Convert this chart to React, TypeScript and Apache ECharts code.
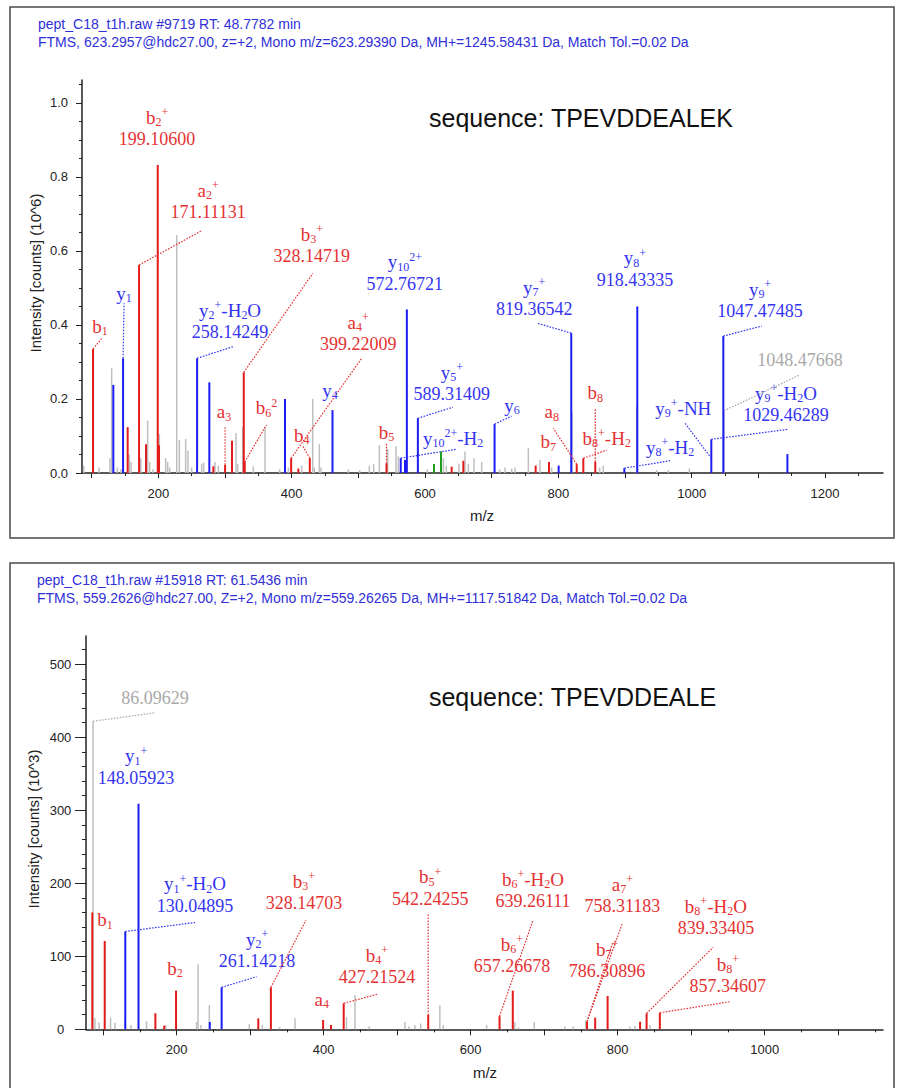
import React, { useEffect, useRef } from "react";
import * as echarts from "echarts";

const SERIF = "'Liberation Serif', 'DejaVu Serif', serif";
const SANS = "'Liberation Sans', Arial, sans-serif";

// ---------------- Spectrum 1: TPEVDDEALEK (intensity in 10^6 counts) ----------------
const s1RedMz = [102.06, 154.0, 171.11, 181.5, 199.11, 201.0, 282.5, 300.13, 310.5, 328.15, 329.6, 399.22, 410.0, 427.2, 542.24, 640.0, 657.5, 766.0, 786.0, 827.6, 837.5, 855.4];
const s1RedInt = [0.335, 0.124, 0.562, 0.078, 0.832, 0.075, 0.018, 0.022, 0.087, 0.272, 0.03, 0.04, 0.012, 0.04, 0.026, 0.017, 0.033, 0.02, 0.03, 0.024, 0.04, 0.03];
const s1BlueMz = [132.5, 147.11, 258.14, 276.5, 390.0, 461.25, 563.6, 570.0, 572.77, 589.31, 704.35, 800.5, 819.37, 899.0, 918.43, 1029.46, 1047.47, 1143.6];
const s1BlueInt = [0.238, 0.31, 0.31, 0.245, 0.2, 0.17, 0.04, 0.035, 0.442, 0.148, 0.132, 0.02, 0.378, 0.013, 0.45, 0.091, 0.37, 0.051];
const s1GreenMz = [613.5, 624.0];
const s1GreenInt = [0.024, 0.058];
const s1GrayMz = [88, 111, 127.5, 130, 138.5, 144, 156.5, 159, 173.6, 184, 187, 192, 201.5, 211, 214, 217, 227.6, 231.5, 241, 244.5, 250, 265, 268, 285, 290, 316.5, 319, 326.6, 342.5, 360, 382, 395, 415, 431.6, 434, 441.5, 444, 485, 502, 516.5, 523, 531.5, 544, 556.5, 560, 603.5, 627.5, 632, 651, 660, 665, 673.5, 685, 712, 720, 730, 735, 755, 772.5, 790, 820.5, 862, 867.5, 917.5, 947.5, 965, 996.5, 1048.48];
const s1GrayInt = [0.02, 0.015, 0.04, 0.283, 0.015, 0.01, 0.05, 0.03, 0.04, 0.141, 0.03, 0.01, 0.105, 0.04, 0.03, 0.015, 0.643, 0.09, 0.092, 0.06, 0.015, 0.025, 0.028, 0.03, 0.02, 0.108, 0.025, 0.125, 0.018, 0.125, 0.01, 0.015, 0.02, 0.2, 0.015, 0.078, 0.015, 0.01, 0.008, 0.02, 0.025, 0.075, 0.065, 0.072, 0.045, 0.01, 0.04, 0.02, 0.025, 0.058, 0.025, 0.04, 0.03, 0.01, 0.015, 0.012, 0.015, 0.067, 0.035, 0.015, 0.163, 0.015, 0.02, 0.18, 0.008, 0.008, 0.012, 0.168];

// ---------------- Spectrum 2: TPEVDDEALE (intensity in 10^3 counts) ----------------
const s2RedMz = [85.2, 102.06, 171, 183, 199.1, 311, 328.15, 399.2, 410, 427.22, 542.24, 639.26, 657.27, 758.31, 769.4, 786.31, 830.5, 839.33, 857.35];
const s2RedInt = [160, 121, 22, 5, 53, 15, 57.5, 12.7, 6, 35.6, 19.6, 18, 53, 10.5, 16, 45.6, 10.4, 21.9, 22.7];
const s2BlueMz = [130.05, 148.06, 245, 261.14];
const s2BlueInt = [134, 309, 10, 57.5];
const s2GrayMz = [86.1, 88.8, 94.3, 110, 116, 129.7, 137.8, 159, 185, 227, 229, 233, 244.4, 298.8, 316.5, 327.9, 340, 361, 431, 442.6, 462, 510.6, 516, 524, 532, 558, 562.7, 621.7, 660, 665, 686.5, 728, 739.6, 756.5, 816.7, 823.5, 844];
const s2GrayInt = [422, 15, 9.6, 16, 9, 10, 6, 11, 6, 10, 89, 6, 33, 7, 6, 42, 3, 15, 17, 47, 4, 10, 4, 6, 8, 33, 6, 6, 10, 3, 10, 4, 4, 12, 4, 5, 6];

// ---------------- Axis ticks / labels ----------------
const s1XLabels = [200, 400, 600, 800, 1000, 1200];
const s1XMajorTicks = [100, 200, 300, 400, 500, 600, 700, 800, 900, 1000, 1100, 1200];
const s1XMinorTicks = [150, 250, 350, 450, 550, 650, 750, 850, 950, 1050, 1150, 1250];
const s1YLabels = [0, 0.2, 0.4, 0.6, 0.8, 1.0];
const s1YMinorTicks = [0, 0.05, 0.1, 0.15, 0.2, 0.25, 0.3, 0.35, 0.4, 0.45, 0.5, 0.55, 0.6, 0.65, 0.7, 0.75, 0.8, 0.85, 0.9, 0.95, 1.0, 1.05];
const s2XLabels = [200, 400, 600, 800, 1000];
const s2XMajorTicks = [100, 200, 300, 400, 500, 600, 700, 800, 900, 1000, 1100];
const s2XMinorTicks = [150, 250, 350, 450, 550, 650, 750, 850, 950, 1050, 1150];
const s2YLabels = [0, 100, 200, 300, 400, 500];
const s2YMinorTicks = [0, 20, 40, 60, 80, 100, 120, 140, 160, 180, 200, 220, 240, 260, 280, 300, 320, 340, 360, 380, 400, 420, 440, 460, 480, 500, 520];

// ---------------- Annotations (layout offsets in px from the anchored peak top) ----------------
type Ann = { c: "r" | "b" | "g"; mz: number; at?: number; t: string; n?: string; lx?: number; ly?: number; ex?: number; ey?: number };

const s1Ann: Ann[] = [
  { c: "r", mz: 102.06, t: "b_{1}", lx: 7, ly: -23, ex: 9, ey: -11 },
  { c: "b", mz: 147.11, t: "y_{1}", lx: 1, ly: -65, ex: 1, ey: -55 },
  { c: "r", mz: 171.11, t: "a_{2}^{+}", n: "171.11131", lx: 69, ly: -64, ex: 62.7, ey: -34.4 },
  { c: "r", mz: 199.11, t: "b_{2}^{+}", n: "199.10600", lx: -0.7, ly: -37 },
  { c: "r", mz: 328.15, t: "b_{3}^{+}", n: "328.14719", lx: 68, ly: -127, ex: 69, ey: -99 },
  { c: "r", mz: 329.6, t: "b_{6}^{2}", lx: 21.7, ly: -54, ex: 21.7, ey: -37 },
  { c: "r", mz: 300.13, t: "a_{3}", lx: -1, ly: -53, ex: 0, ey: -38 },
  { c: "b", mz: 258.14, t: "y_{2}^{+}-H_{2}O", n: "258.14249", lx: 33, ly: -37, ex: 36, ey: -11.6 },
  { c: "r", mz: 399.22, t: "a_{4}^{+}", n: "399.22009", lx: 67, ly: -125, ex: 70.6, ey: -100 },
  { c: "r", mz: 427.2, t: "b_{4}", lx: -8, ly: -23, ex: -7, ey: -12 },
  { c: "b", mz: 461.25, t: "y_{4}", lx: -2.5, ly: -20 },
  { c: "r", mz: 542.24, t: "b_{5}", lx: 0, ly: -31, ex: 0, ey: -20 },
  { c: "b", mz: 572.77, t: "y_{10}^{2+}", n: "572.76721", lx: -2, ly: -36.5 },
  { c: "b", mz: 563.6, t: "y_{10}^{2+}-H_{2}", lx: 52.3, ly: -20, ex: 56, ey: -9 },
  { c: "b", mz: 589.31, t: "y_{5}^{+}", n: "589.31409", lx: 34, ly: -35, ex: 35, ey: -11 },
  { c: "b", mz: 704.35, t: "y_{6}", lx: 17.5, ly: -19, ex: 17, ey: -8 },
  { c: "b", mz: 819.37, t: "y_{7}^{+}", n: "819.36542", lx: -37, ly: -35, ex: -34.5, ey: -10 },
  { c: "r", mz: 827.6, t: "a_{8}", lx: -25, ly: -52.4, ex: -23.4, ey: -35.8 },
  { c: "r", mz: 786.0, t: "b_{7}", lx: -0.7, ly: -20 },
  { c: "r", mz: 855.4, t: "b_{8}", lx: 0, ly: -69, ex: 0, ey: -54 },
  { c: "r", mz: 837.5, t: "b_{8}^{+}-H_{2}", lx: 23.4, ly: -20, ex: 23.4, ey: -8 },
  { c: "b", mz: 918.43, t: "y_{8}^{+}", n: "918.43335", lx: -2.3, ly: -37.5 },
  { c: "b", mz: 899.0, t: "y_{8}^{+}-H_{2}", lx: 45.7, ly: -21, ex: 45.7, ey: -7.5 },
  { c: "b", mz: 1029.46, at: 0.04, t: "y_{9}^{+}-NH", lx: -28, ly: -50, ex: -26.3, ey: -35 },
  { c: "b", mz: 1029.46, t: "y_{9}^{+}-H_{2}O", n: "1029.46289", lx: 74.7, ly: -35, ex: 77, ey: -10 },
  { c: "b", mz: 1047.47, t: "y_{9}^{+}", n: "1047.47485", lx: 36.7, ly: -36, ex: 38.4, ey: -10 },
  { c: "g", mz: 1048.48, t: "", n: "1048.47668", lx: 76, ly: -50.7, ex: 75.3, ey: -35.7 },
];

const s2Ann: Ann[] = [
  { c: "g", mz: 86.1, t: "", n: "86.09629", lx: 62, ly: -23, ex: 62.2, ey: -8.5 },
  { c: "r", mz: 102.06, t: "b_{1}", lx: 0.3, ly: -21 },
  { c: "b", mz: 148.06, t: "y_{1}^{+}", n: "148.05923", lx: -2.5, ly: -37 },
  { c: "b", mz: 130.05, t: "y_{1}^{+}-H_{2}O", n: "130.04895", lx: 69.7, ly: -36.5, ex: 69.7, ey: -9 },
  { c: "r", mz: 199.1, t: "b_{2}", lx: -1, ly: -22.6 },
  { c: "b", mz: 261.14, t: "y_{2}^{+}", n: "261.14218", lx: 35.4, ly: -37.3, ex: 35, ey: -10.6 },
  { c: "r", mz: 328.15, t: "b_{3}^{+}", n: "328.14703", lx: 33, ly: -95, ex: 35, ey: -67 },
  { c: "r", mz: 399.2, t: "a_{4}", lx: -1.4, ly: -21 },
  { c: "r", mz: 427.22, t: "b_{4}^{+}", n: "427.21524", lx: 33.3, ly: -37.3, ex: 34.6, ey: -9.3 },
  { c: "r", mz: 542.24, t: "b_{5}^{+}", n: "542.24255", lx: 2, ly: -127, ex: 0, ey: -101 },
  { c: "r", mz: 639.26, t: "b_{6}^{+}-H_{2}O", n: "639.26111", lx: 33.5, ly: -126, ex: 33.5, ey: -96 },
  { c: "r", mz: 657.27, t: "b_{6}^{+}", n: "657.26678", lx: -0.8, ly: -35.6 },
  { c: "r", mz: 758.31, t: "a_{7}^{+}", n: "758.31183", lx: 35.4, ly: -126.6, ex: 35.4, ey: -98.6 },
  { c: "r", mz: 758.31, t: "", ex: 26, ey: -80 },
  { c: "r", mz: 786.31, t: "b_{7}^{+}", n: "786.30896", lx: -0.5, ly: -36 },
  { c: "r", mz: 839.33, t: "b_{8}^{+}-H_{2}O", n: "839.33405", lx: 69.3, ly: -96.3, ex: 66.6, ey: -66 },
  { c: "r", mz: 857.35, t: "b_{8}^{+}", n: "857.34607", lx: 68, ly: -37.7, ex: 70, ey: -11 },
];

const RED_LINE = "#e31b1b";
const RED_TEXT = "#e43232";
const BLUE_LINE = "#1c1cf5";
const BLUE_TEXT = "#3434f0";
const GRAY_LINE = "#bfbfbf";
const GRAY_TEXT = "#a9a9a9";
const GREEN_LINE = "#1e9e1e";
const HEADER = "#3030d8";

function toRich(markup: string): string {
  let out = "";
  let buf = "";
  let i = 0;
  const flush = () => {
    if (buf) {
      out += `{m|${buf}}`;
      buf = "";
    }
  };
  while (i < markup.length) {
    const ch = markup[i];
    if (ch === "_" || ch === "^") {
      flush();
      let content = "";
      if (markup[i + 1] === "{") {
        const k = markup.indexOf("}", i + 1);
        content = markup.slice(i + 2, k);
        i = k + 1;
      } else {
        content = markup[i + 1];
        i += 2;
      }
      out += `{${ch === "_" ? "s" : "p"}|${content}}`;
    } else {
      buf += ch;
      i++;
    }
  }
  flush();
  return out;
}

function richFor(col: string) {
  return {
    m: { fontFamily: SERIF, fontSize: 19, lineHeight: 22, fill: col },
    s: { fontFamily: SERIF, fontSize: 12, lineHeight: 12, verticalAlign: "bottom", fill: col },
    p: { fontFamily: SERIF, fontSize: 12, lineHeight: 16, verticalAlign: "top", fill: col },
    n: { fontFamily: SERIF, fontSize: 18, lineHeight: 22, fill: col },
  };
}

function lookup(mzs: number[], ints: number[], mz: number) {
  const i = mzs.indexOf(mz);
  return i >= 0 ? ints[i] : 0;
}

function peakSeries(mzs: number[], ints: number[], color: string, width: number, ax: number) {
  return {
    type: "custom",
    xAxisIndex: ax,
    yAxisIndex: ax,
    silent: true,
    data: mzs.map((m, i) => [m, ints[i]]),
    encode: { x: 0, y: 1 },
    renderItem: (_p: any, api: any) => {
      const top = api.coord([api.value(0), api.value(1)]);
      const base = api.coord([api.value(0), 0]);
      return {
        type: "line",
        shape: { x1: top[0], y1: base[1], x2: top[0], y2: top[1] },
        style: { stroke: color, lineWidth: width },
      };
    },
  };
}

function annSeries(anns: Ann[], groups: Record<string, [number[], number[]]>, ax: number) {
  const data = anns.map((a) => {
    const [mzs, ints] = groups[a.c];
    return [a.mz, a.at !== undefined ? a.at : lookup(mzs, ints, a.mz)];
  });
  return {
    type: "custom",
    xAxisIndex: ax,
    yAxisIndex: ax,
    silent: true,
    z: 5,
    data,
    encode: { x: 0, y: 1 },
    renderItem: (params: any, api: any) => {
      const a = anns[params.dataIndex];
      const p = api.coord([api.value(0), api.value(1)]);
      const col = a.c === "r" ? RED_TEXT : a.c === "b" ? BLUE_TEXT : GRAY_TEXT;
      const children: any[] = [];
      if (a.ex !== undefined && a.ey !== undefined) {
        children.push({
          type: "line",
          shape: { x1: p[0], y1: p[1], x2: p[0] + a.ex, y2: p[1] + a.ey },
          style: { stroke: col, lineWidth: 1.2, lineDash: [1.6, 1.4] },
        });
      }
      let text = a.t ? toRich(a.t) : "";
      if (a.n) text += (text ? "\n" : "") + `{n|${a.n}}`;
      if (text) {
        children.push({
          type: "text",
          x: p[0] + (a.lx || 0),
          y: p[1] + (a.ly || 0),
          style: {
            text,
            rich: richFor(col),
            fill: col,
            align: "center",
            verticalAlign: "middle",
            textAlign: "center",
            textVerticalAlign: "middle",
          },
        });
      }
      return { type: "group", children };
    },
  };
}

const tickLabel = { fontFamily: SANS, fontSize: 13, color: "#222" };
const axisLineStyle = { color: "#222", width: 1.5 };

function xAxes(grid: number, min: number, max: number, labels: number[], major: number[], minor: number[], majLen: number, minLen: number) {
  return [
    {
      type: "value", gridIndex: grid, position: "bottom", min, max,
      axisLine: { show: true, onZero: false, lineStyle: axisLineStyle },
      axisTick: { show: true, length: majLen, customValues: major, lineStyle: { color: "#222", width: 1 } },
      axisLabel: { show: true, customValues: labels, margin: 14, formatter: (v: number) => String(v), ...tickLabel },
      splitLine: { show: false },
    },
    {
      type: "value", gridIndex: grid, position: "bottom", min, max,
      axisLine: { show: false, onZero: false },
      axisTick: { show: true, length: minLen, customValues: minor, lineStyle: { color: "#222", width: 1 } },
      axisLabel: { show: false },
      splitLine: { show: false },
    },
  ];
}

function yAxes(grid: number, max: number, labels: number[], minor: number[], majLen: number, minLen: number, margin: number, fmt: (v: number) => string) {
  return [
    {
      type: "value", gridIndex: grid, position: "left", min: 0, max,
      axisLine: { show: true, onZero: false, lineStyle: axisLineStyle },
      axisTick: { show: true, length: minLen, customValues: minor, lineStyle: { color: "#222", width: 1 } },
      axisLabel: { show: true, customValues: labels, margin, align: "center", formatter: fmt, ...tickLabel },
      splitLine: { show: false },
    },
    {
      type: "value", gridIndex: grid, position: "left", min: 0, max,
      axisLine: { show: false, onZero: false },
      axisTick: { show: true, length: majLen, customValues: labels, lineStyle: { color: "#222", width: 1 } },
      axisLabel: { show: false },
      splitLine: { show: false },
    },
  ];
}

function txt(x: number, y: number, text: string, size: number, color: string, align = "left", rotation = 0) {
  return {
    type: "text", x, y, rotation, silent: true,
    style: {
      text, fill: color, fontSize: size, fontFamily: SANS,
      align, verticalAlign: "middle", textAlign: align, textVerticalAlign: "middle",
    },
  };
}

export default function App() {
  const ref = useRef<HTMLDivElement>(null);
  useEffect(() => {
    if (!ref.current) return;
    const chart = echarts.init(ref.current, undefined, { renderer: "svg" });
    const g1 = { r: [s1RedMz, s1RedInt], b: [s1BlueMz, s1BlueInt], g: [s1GrayMz, s1GrayInt] } as any;
    const g2 = { r: [s2RedMz, s2RedInt], b: [s2BlueMz, s2BlueInt], g: [s2GrayMz, s2GrayInt] } as any;
    const xa1 = xAxes(0, 85.5, 1287, s1XLabels, s1XMajorTicks, s1XMinorTicks, 5, 3);
    const xa2 = xAxes(1, 76.6, 1161, s2XLabels, s2XMajorTicks, s2XMinorTicks, 6, 3);
    const ya1 = yAxes(0, 1.062, s1YLabels, s1YMinorTicks, 6, 3, 23, (v) => v.toFixed(1));
    const ya2 = yAxes(1, 538.8, s2YLabels, s2YMinorTicks, 11, 4, 25.5, (v) => String(v));
    chart.setOption({
      animation: false,
      backgroundColor: "#ffffff",
      grid: [
        { left: 82, top: 80, width: 801, height: 393 },
        { left: 86, top: 636, width: 797, height: 393.3 },
      ],
      xAxis: [...xa1, ...xa2],
      yAxis: [...ya1, ...ya2],
      series: [
        peakSeries(s1GrayMz, s1GrayInt, GRAY_LINE, 1.5, 0),
        peakSeries(s1GreenMz, s1GreenInt, GREEN_LINE, 2, 0),
        peakSeries(s1RedMz, s1RedInt, RED_LINE, 2, 0),
        peakSeries(s1BlueMz, s1BlueInt, BLUE_LINE, 2, 0),
        annSeries(s1Ann, g1, 0),
        peakSeries(s2GrayMz, s2GrayInt, GRAY_LINE, 1.5, 2),
        peakSeries(s2RedMz, s2RedInt, RED_LINE, 2, 2),
        peakSeries(s2BlueMz, s2BlueInt, BLUE_LINE, 2, 2),
        annSeries(s2Ann, g2, 2),
      ],
      graphic: [
        { type: "rect", silent: true, shape: { x: 10, y: 7, width: 884, height: 531 }, style: { fill: "none", stroke: "#4a4a4a", lineWidth: 1.5 } },
        { type: "rect", silent: true, shape: { x: 10, y: 563, width: 884, height: 540 }, style: { fill: "none", stroke: "#4a4a4a", lineWidth: 1.5 } },
        txt(38, 24, "pept_C18_t1h.raw #9719 RT: 48.7782 min", 14, HEADER),
        txt(38, 42, "FTMS, 623.2957@hdc27.00, z=+2, Mono m/z=623.29390 Da, MH+=1245.58431 Da, Match Tol.=0.02 Da", 14, HEADER),
        txt(37, 580, "pept_C18_t1h.raw #15918 RT: 61.5436 min", 14, HEADER),
        txt(37, 598, "FTMS, 559.2626@hdc27.00, Z=+2, Mono m/z=559.26265 Da, MH+=1117.51842 Da, Match Tol.=0.02 Da", 14, HEADER),
        txt(581, 118, "sequence: TPEVDDEALEK", 25, "#111", "center"),
        txt(572.5, 697, "sequence: TPEVDDEALE", 25, "#111", "center"),
        txt(35, 273, "Intensity [counts] (10^6)", 15, "#222", "center", Math.PI / 2),
        txt(33, 829, "Intensity [counts] (10^3)", 15, "#222", "center", Math.PI / 2),
        txt(482, 515, "m/z", 15, "#222", "center"),
        txt(485, 1072, "m/z", 15, "#222", "center"),
      ],
    });
    return () => chart.dispose();
  }, []);
  return <div ref={ref} style={{ position: "absolute", left: 0, top: 0, width: 897, height: 1088 }} />;
}
